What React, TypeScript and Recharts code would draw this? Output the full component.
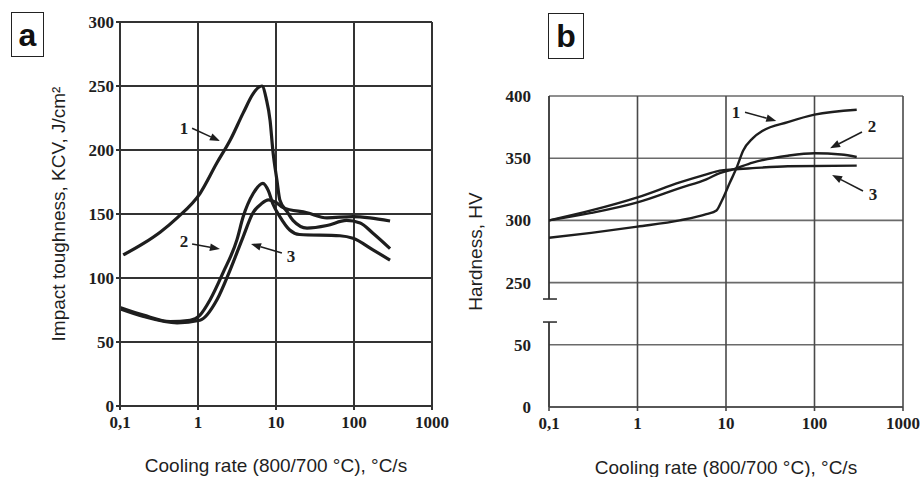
import React from 'react';
import { LineChart, Line, XAxis, YAxis, CartesianGrid, ReferenceLine } from 'recharts';

// cooling rate ticks (log axis)
const rateTicks = [0.1, 1, 10, 100, 1000];

// panel a: impact toughness KCV, J/cm2
const kcvTicks = [0, 50, 100, 150, 200, 250, 300];
const kcv1Rate = [0.11, 0.2, 0.33, 0.54, 1.06, 1.75, 2.6, 3.8, 5.1, 6.0, 6.6, 7.5, 8.4, 9.1, 10.3, 11.2, 13.8, 16.5, 25, 45, 80, 120, 175, 290];
const kcv1Value = [118, 127, 136, 147, 166, 190, 208, 229, 244, 249, 250, 240, 223, 200, 176, 161, 152, 145, 139, 141, 145, 143, 135, 123];
const kcv2Rate = [0.1, 0.2, 0.44, 0.79, 1.06, 1.43, 2.09, 3.16, 3.8, 5.1, 6.8, 8.0, 9.1, 11.2, 15, 20, 66, 97, 175, 290];
const kcv2Value = [77, 71, 66, 67, 71, 83, 104, 130, 148, 166, 174, 168, 158, 148, 137.5, 134, 133, 131, 122, 114];
const kcv3Rate = [0.1, 0.2, 0.54, 1.06, 1.75, 2.57, 3.78, 5.07, 6.5, 8, 10, 12.3, 25, 45, 97, 160, 290];
const kcv3Value = [76, 70, 65, 67, 83, 106, 132, 151, 158, 161, 159, 155, 151, 147, 148, 147, 144.5];

// panel b: hardness HV (broken axis between 50 and 250)
const hvTickPos = [0, 50, 100, 150, 200, 250];
const hvTickLabels = ['0', '50', '250', '300', '350', '400'];
const hv1Rate = [0.1, 0.3, 1, 3, 6, 7.8, 9, 11, 13.3, 15.6, 20, 26, 50, 100, 300];
const hv1Value = [286, 290, 295, 300, 305, 308, 316, 330, 343, 356, 366, 372, 379, 385, 389];
const hv2Rate = [0.1, 0.3, 1, 3, 6, 8.5, 12, 20, 50, 100, 200, 300];
const hv2Value = [300, 306, 314.5, 326, 333, 338, 341, 346.5, 352, 354, 353, 351];
const hv3Rate = [0.1, 0.3, 1, 3, 6, 8.5, 12, 20, 50, 300];
const hv3Value = [300, 308, 318.5, 330.5, 337, 340, 341, 342, 343.5, 344];

// annotation arrows: [label, fromRate, fromVal, toRate, toVal, labelDx, labelDy]
const arrowsA: [string, number, number, number, number, number, number][] = [
  ['1', 0.84, 217, 1.91, 207, -8, 0],
  ['2', 0.84, 126.6, 1.91, 122.7, -8, -2],
  ['3', 11.9, 119.5, 4.78, 126.6, 9, 3],
];
const arrowsB: [string, number, number, number, number, number, number][] = [
  ['1', 16.4, 237, 37, 230, -9, 0],
  ['2', 344, 221, 150, 208, 10, -6],
  ['3', 353, 173.6, 158, 186.5, 10, 3],
];

const zip = (xs: number[], ys: number[], shift = 0) => xs.map((x, i) => ({ x, y: ys[i] - shift }));

const kcv1 = zip(kcv1Rate, kcv1Value);
const kcv2 = zip(kcv2Rate, kcv2Value);
const kcv3 = zip(kcv3Rate, kcv3Value);
const hv1 = zip(hv1Rate, hv1Value, 150);
const hv2 = zip(hv2Rate, hv2Value, 150);
const hv3 = zip(hv3Rate, hv3Value, 150);

const INK = '#1e1e1e';
const tickFont = { fontFamily: 'Liberation Serif', fontWeight: 'bold', fontSize: 17, fill: INK };
const titleStyle = { fontFamily: 'Liberation Sans', fontSize: 19, fill: INK };
const rateFmt = (v: number) => (v === 0.1 ? '0,1' : String(v));

function ArrowShape(props: any) {
  const { x1, y1, x2, y2, num, ldx, ldy } = props;
  const dx = x2 - x1;
  const dy = y2 - y1;
  const len = Math.sqrt(dx * dx + dy * dy) || 1;
  const ux = dx / len;
  const uy = dy / len;
  const head = 10;
  const half = 3.8;
  const bx = x2 - ux * head;
  const by = y2 - uy * head;
  return (
    <g>
      <line x1={x1} y1={y1} x2={bx} y2={by} stroke={INK} strokeWidth={1.6} />
      <polygon
        points={`${x2},${y2} ${bx - uy * half},${by + ux * half} ${bx + uy * half},${by - ux * half}`}
        fill={INK}
      />
      <text
        x={x1 + ldx}
        y={y1 + ldy}
        textAnchor="middle"
        dominantBaseline="central"
        fontFamily="Liberation Serif"
        fontWeight="bold"
        fontSize={17}
        fill={INK}
      >
        {num}
      </text>
    </g>
  );
}

function renderArrows(list: [string, number, number, number, number, number, number][]) {
  return list.map(([num, fx, fy, tx, ty, ldx, ldy]) => (
    <ReferenceLine
      key={'arr' + num}
      segment={[{ x: fx, y: fy }, { x: tx, y: ty }]}
      ifOverflow="visible"
      shape={(p: any) => <ArrowShape {...p} num={num} ldx={ldx} ldy={ldy} />}
    />
  ));
}

function PanelBox({ letter, left, top, w, h }: { letter: string; left: number; top: number; w: number; h: number }) {
  return (
    <div
      style={{
        position: 'absolute',
        left,
        top,
        width: w,
        height: h,
        boxSizing: 'border-box',
        border: '1.5px solid #222',
        display: 'flex',
        alignItems: 'center',
        justifyContent: 'center',
        fontFamily: 'Liberation Sans',
        fontWeight: 'bold',
        fontSize: 32,
        color: '#111',
        lineHeight: 1,
      }}
    >
      {letter}
    </div>
  );
}

function ToughnessChart() {
  return (
    <LineChart width={460} height={477} margin={{ top: 22, right: 28, left: 60, bottom: 41 }}>
      <CartesianGrid stroke="#333" strokeWidth={2} />
      <XAxis
        dataKey="x"
        type="number"
        scale="log"
        domain={[0.1, 1000]}
        ticks={rateTicks}
        tickFormatter={rateFmt}
        allowDataOverflow
        height={30}
        tick={tickFont}
        tickSize={4}
        tickMargin={6}
        stroke="#333"
        strokeWidth={2}
        label={{ value: 'Cooling rate (800/700 °C), °C/s', position: 'bottom', offset: 23, style: titleStyle }}
      />
      <YAxis
        type="number"
        domain={[0, 300]}
        ticks={kcvTicks}
        width={60}
        tick={tickFont}
        tickSize={4}
        tickMargin={2}
        stroke="#333"
        strokeWidth={2}
        label={{
          value: 'Impact toughness, KCV, J/cm²',
          angle: -90,
          position: 'insideLeft',
          offset: -2,
          style: { ...titleStyle, textAnchor: 'middle' },
        }}
      />
      <Line data={kcv1} dataKey="y" type="monotone" stroke={INK} strokeWidth={3.2} dot={false} isAnimationActive={false} />
      <Line data={kcv2} dataKey="y" type="monotone" stroke={INK} strokeWidth={3.2} dot={false} isAnimationActive={false} />
      <Line data={kcv3} dataKey="y" type="monotone" stroke={INK} strokeWidth={3.2} dot={false} isAnimationActive={false} />
      {renderArrows(arrowsA)}
    </LineChart>
  );
}

function HardnessChart() {
  const gapLow = 68.3;
  const gapHigh = 86.8;
  return (
    <LineChart width={461} height={477} margin={{ top: 96, right: 18, left: 29, bottom: 40 }}>
      <CartesianGrid stroke="#6a6a6a" strokeWidth={1.6} vertical={false} />
      {rateTicks.slice(1).map((v) => (
        <ReferenceLine key={'v' + v} x={v} stroke="#4a4a4a" strokeWidth={1.6} />
      ))}
      <XAxis
        dataKey="x"
        type="number"
        scale="log"
        domain={[0.1, 1000]}
        ticks={rateTicks}
        tickFormatter={rateFmt}
        allowDataOverflow
        height={30}
        tick={tickFont}
        tickSize={4}
        tickMargin={6}
        stroke="#444"
        strokeWidth={1.6}
        label={{ value: 'Cooling rate (800/700 °C), °C/s', position: 'bottom', offset: 24, style: titleStyle }}
      />
      <YAxis
        type="number"
        domain={[0, 250]}
        ticks={hvTickPos}
        tickFormatter={(v: number) => hvTickLabels[hvTickPos.indexOf(v)]}
        width={60}
        tick={tickFont}
        axisLine={false}
        tickLine={false}
        tickMargin={12}
        label={{
          value: 'Hardness, HV',
          angle: -90,
          position: 'insideLeft',
          offset: -14,
          style: { ...titleStyle, textAnchor: 'middle' },
        }}
      />
      {/* broken left axis */}
      <ReferenceLine segment={[{ x: 0.1, y: 0 }, { x: 0.1, y: gapLow }]} stroke="#333" strokeWidth={1.8} />
      <ReferenceLine segment={[{ x: 0.1, y: gapHigh }, { x: 0.1, y: 250 }]} stroke="#333" strokeWidth={1.8} />
      <ReferenceLine segment={[{ x: 0.0855, y: gapLow }, { x: 0.123, y: gapLow }]} ifOverflow="visible" stroke="#333" strokeWidth={1.6} />
      <ReferenceLine segment={[{ x: 0.0855, y: gapHigh }, { x: 0.123, y: gapHigh }]} ifOverflow="visible" stroke="#333" strokeWidth={1.6} />
      <Line data={hv1} dataKey="y" type="monotone" stroke={INK} strokeWidth={2.4} dot={false} isAnimationActive={false} />
      <Line data={hv2} dataKey="y" type="monotone" stroke={INK} strokeWidth={2.4} dot={false} isAnimationActive={false} />
      <Line data={hv3} dataKey="y" type="monotone" stroke={INK} strokeWidth={2.4} dot={false} isAnimationActive={false} />
      {renderArrows(arrowsB)}
    </LineChart>
  );
}

export default function App() {
  return (
    <div style={{ position: 'absolute', left: 0, top: 0, width: 921, height: 477, background: '#fff', overflow: 'hidden' }}>
      <div style={{ position: 'absolute', left: 0, top: 0 }}>
        <ToughnessChart />
      </div>
      <div style={{ position: 'absolute', left: 460, top: 0 }}>
        <HardnessChart />
      </div>
      <PanelBox letter="a" left={11} top={12} w={33} h={45} />
      <PanelBox letter="b" left={548} top={13} w={36} h={46} />
    </div>
  );
}
